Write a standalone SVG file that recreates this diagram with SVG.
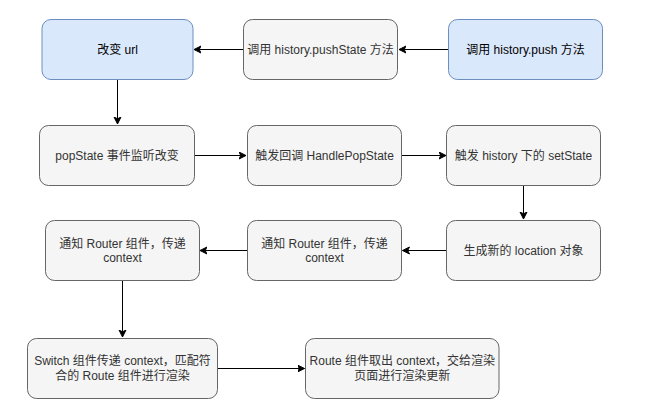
<svg xmlns="http://www.w3.org/2000/svg" width="645" height="415" viewBox="0 0 645 415">
<style>
.b{fill:#dae8fc;stroke:#6c8ebf;stroke-width:1}
.g{fill:#f5f5f5;stroke:#666666;stroke-width:1}
text{font-family:"Liberation Sans","Noto Sans CJK SC",sans-serif;font-size:12px;text-anchor:middle}
.tb{fill:#000000}
.tg{fill:#333333}
.c{fill:none;stroke:#000000;stroke-width:1}
</style>
<defs>
<marker id="a" markerUnits="userSpaceOnUse" markerWidth="10" markerHeight="10" refX="7" refY="4" orient="auto">
<path d="M0,0.5 L7,4 L0,7.5 L1.8,4 Z" fill="#000000" stroke="#000000" stroke-width="1"/>
</marker>
</defs>
<rect width="645" height="415" fill="#ffffff"/>
<g id="connectors">
<path class="c" d="M448.5,49.5 L399,49.5" marker-end="url(#a)"/>
<path class="c" d="M243.5,49.5 L194,49.5" marker-end="url(#a)"/>
<path class="c" d="M117.5,79.5 L117.5,124" marker-end="url(#a)"/>
<path class="c" d="M194.5,155.5 L246,155.5" marker-end="url(#a)"/>
<path class="c" d="M401.5,155.5 L446,155.5" marker-end="url(#a)"/>
<path class="c" d="M523.5,185.5 L523.5,219" marker-end="url(#a)"/>
<path class="c" d="M446.5,250.5 L402.5,250.5" marker-end="url(#a)"/>
<path class="c" d="M247.5,250.5 L200,250.5" marker-end="url(#a)"/>
<path class="c" d="M122.5,280.5 L122.5,337" marker-end="url(#a)"/>
<path class="c" d="M217.5,368.5 L304.5,368.5" marker-end="url(#a)"/>
</g>
<g id="n1"><rect class="b" x="42" y="19.5" width="151" height="60" rx="9"/><text class="tb" x="117.5" y="53.5">改变 url</text></g>
<g id="n2"><rect class="g" x="243.5" y="19.5" width="154" height="60" rx="9"/><text class="tg" x="320.5" y="53.5">调用 history.pushState 方法</text></g>
<g id="n3"><rect class="b" x="448.5" y="19.5" width="154" height="60" rx="9"/><text class="tb" x="525.5" y="53.5">调用 history.push 方法</text></g>
<g id="n4"><rect class="g" x="39.5" y="125.5" width="155" height="60" rx="9"/><text class="tg" x="117" y="159.5">popState 事件监听改变</text></g>
<g id="n5"><rect class="g" x="247.5" y="125.5" width="154" height="60" rx="9"/><text class="tg" x="324.5" y="159.5">触发回调 HandlePopState</text></g>
<g id="n6"><rect class="g" x="446.5" y="125.5" width="154" height="60" rx="9"/><text class="tg" x="523.5" y="159.5">触发 history 下的 setState</text></g>
<g id="n7"><rect class="g" x="446.5" y="220.5" width="154" height="60" rx="9"/><text class="tg" x="523.5" y="254.5">生成新的 location 对象</text></g>
<g id="n8"><rect class="g" x="247.5" y="220.5" width="154" height="60" rx="9"/><text class="tg" x="324.5" y="247.5">通知 Router 组件，传递</text><text class="tg" x="324.5" y="262">context</text></g>
<g id="n9"><rect class="g" x="45.5" y="220.5" width="154" height="60" rx="9"/><text class="tg" x="122.5" y="247.5">通知 Router 组件，传递</text><text class="tg" x="122.5" y="262">context</text></g>
<g id="n10"><rect class="g" x="27.5" y="338.5" width="190" height="60" rx="9"/><text class="tg" x="122.5" y="364.5">Switch 组件传递 context，匹配符</text><text class="tg" x="122.5" y="380">合的 Route 组件进行渲染</text></g>
<g id="n11"><rect class="g" x="305.5" y="338.5" width="193.5" height="60" rx="9"/><text class="tg" x="402.3" y="364.5">Route 组件取出 context，交给渲染</text><text class="tg" x="402.3" y="380">页面进行渲染更新</text></g>
</svg>
